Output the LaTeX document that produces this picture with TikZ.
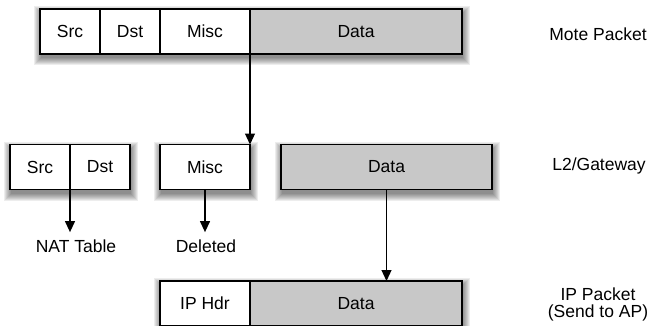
\documentclass[tikz,border=0pt]{standalone}
\usepackage{fontspec}
\setmainfont{Liberation Sans}
\usetikzlibrary{arrows.meta,backgrounds,calc}
\definecolor{datagray}{HTML}{C8C8C8}
\newcommand\rowshade[2]{%
  \foreach \k in {0,1,...,7}{%
    \fill[black, opacity=0.07]
      ($(#1)+(1-\k,4-\k)$) rectangle ($(#2)+(1+\k,4+\k)$);}}
\begin{document}
\begin{tikzpicture}[x=1pt,y=-1pt,
  font=\fontsize{17.5}{17}\selectfont,
  cell/.style={draw=black, line width=1.2pt, fill=white, minimum height=45pt, inner sep=0pt, outer sep=0pt},
  datacell/.style={cell, fill=datagray},
  conn/.style={line width=1.2pt, -{Triangle[length=11pt,width=10pt]}},
  lbl/.style={anchor=base, inner sep=0pt, align=center}]
\useasboundingbox (0,0) rectangle (655,326);

% top row (mote packet)
\node[cell, minimum width=60pt] (srcT) at (70,31.5) {Src};
\node[cell, minimum width=60pt] (dstT) at (130,31.5) {Dst};
\node[cell, minimum width=90pt] (miscT) at (205,31.5) {Misc};
\node[datacell, minimum width=212pt] (dataT) at (356,31.5) {Data};

% middle row (L2/gateway)
\node[cell, minimum width=60pt] (srcM) at (40,167) {Src};
\node[cell, minimum width=60pt] (dstM) at (100,167) {Dst};
\node[cell, minimum width=90pt] (miscM) at (205,167) {Misc};
\node[datacell, minimum width=211pt] (dataM) at (386.5,167) {Data};

% bottom row (IP packet)
\node[cell, minimum width=90pt] (ipB) at (205,303.5) {IP Hdr};
\node[datacell, minimum width=212pt] (dataB) at (356,303.5) {Data};

% shadows
\begin{scope}[on background layer]
  \rowshade{srcT.north west}{dataT.south east}
  \rowshade{srcM.north west}{dstM.south east}
  \rowshade{miscM.north west}{miscM.south east}
  \rowshade{dataM.north west}{dataM.south east}
  \rowshade{ipB.north west}{dataB.south east}
\end{scope}

% labels
\node[lbl] (moteL) at (598,41) {Mote Packet};
\node[lbl] (l2L) at (599,170) {L2/Gateway};
\node[anchor=center, inner sep=0pt, align=center] (ipL) at (598,304) {IP Packet\\(Send to AP)};
\node[lbl, inner ysep=7pt] (nat) at (76,252) {NAT Table};
\node[lbl, inner ysep=7pt] (del) at (206,252) {Deleted};

% connectors
\draw[conn] (miscT.south east) -- (miscM.north east);
\draw[conn] (srcM.south east) -- (srcM.south east |- nat.north);
\draw[conn] (miscM.south) -- (miscM.south |- del.north);
\draw[conn] (dataM.south) -- (dataM.south |- dataB.north);
\end{tikzpicture}
\end{document}
